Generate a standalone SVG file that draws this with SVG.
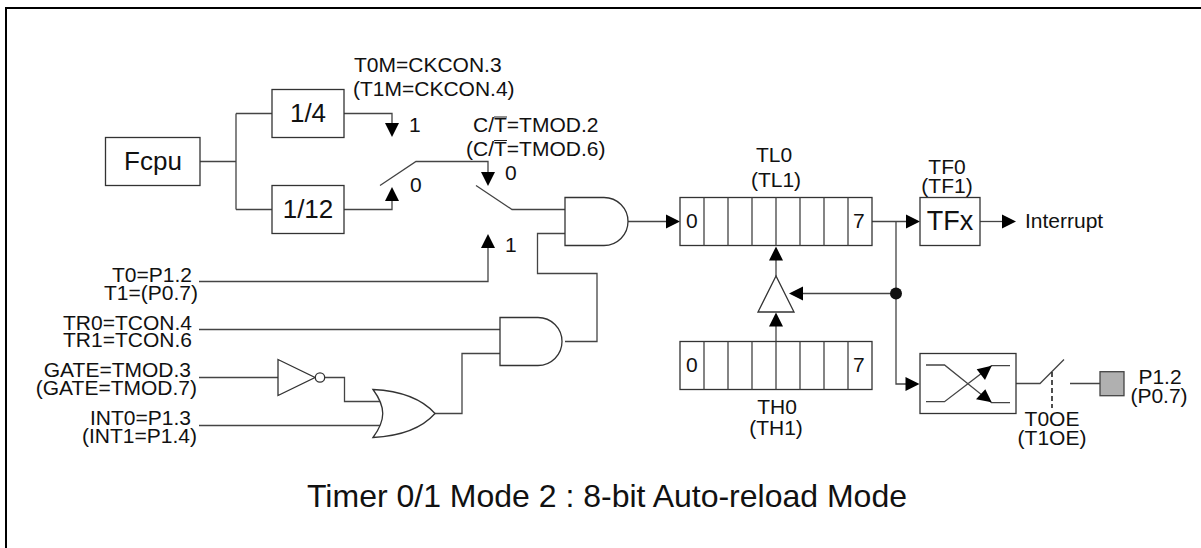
<svg xmlns="http://www.w3.org/2000/svg" width="1201" height="548" viewBox="0 0 1201 548">
<style>
text{font-family:"Liberation Sans",Arial,sans-serif;fill:#111}
.s{font-size:21px}.b{font-size:26px}.a{text-anchor:middle}.e{text-anchor:end}
.l{fill:none;stroke:#444;stroke-width:1.3}
.g{fill:#fff;stroke:#333;stroke-width:1.3}
.h{fill:#000}
</style>
<defs>
<path id="au" d="M0,0L-7,14H7Z" class="h"/>
<path id="ad" d="M0,0L-7,-14H7Z" class="h"/>
<path id="ar" d="M0,0L-14,-7V7Z" class="h"/>
<path id="al" d="M0,0L14,-7V7Z" class="h"/>
</defs>
<path d="M6,570V8H1201" fill="none" stroke="#000" stroke-width="2"/>
<g id="connectors">
<path class="l" d="M200,161.500H236M236,113.500V209.500M236,113.500H272M236,209.500H272"/>
<path class="l" d="M344,113.500H392V125M344,209.500H392V199"/>
<path class="l" d="M380,185.500L416,161.500H488V173"/>
<path class="l" d="M476,185.500L512,209.500H565"/>
<path class="l" d="M199,281.500H488V246"/>
<path class="l" d="M565,233.500H537.500V273.500H597V341.500H565"/>
<path class="l" d="M628,221.500H668"/>
<path class="l" d="M199,329.500H500"/>
<path class="l" d="M199,377.500H278M325,377.500H344.500V401.500H380"/>
<path class="l" d="M199,425.500H380"/>
<path class="l" d="M435,413.500H462V353.500H500"/>
<path class="l" d="M872,221.500H908M896,221.500V384H908"/>
<path class="l" d="M980,221.500H1004"/>
<path class="l" d="M776,276V258"/>
<path class="l" d="M896,293.500H800"/>
<path class="l" d="M776,341.500V325"/>
<path class="l" d="M1016,383.500H1040L1064,359.500M1070,383.500H1100"/>
<path d="M1052,372V408" fill="none" stroke="#222" stroke-width="1.6" stroke-dasharray="5 3"/>
<use href="#ad" x="392" y="137"/><use href="#au" x="392" y="187"/>
<use href="#ad" x="488" y="186"/><use href="#au" x="488" y="234"/>
<use href="#ar" x="680" y="221.500"/><use href="#ar" x="920" y="221.500"/><use href="#ar" x="1016" y="221.500"/>
<use href="#au" x="776" y="246.500"/><use href="#al" x="789" y="293.500"/><use href="#au" x="776" y="312.500"/>
<use href="#ar" x="919.500" y="384"/>
<circle cx="896" cy="293.500" r="6" fill="#111"/>
</g>
<g id="fcpu"><rect class="g" x="105.500" y="137.500" width="94.500" height="48"/><text class="b a" x="153" y="170">Fcpu</text></g>
<g id="div4"><rect class="g" x="272" y="89.500" width="72" height="48"/><text class="b a" x="308" y="122">1/4</text></g>
<g id="div12"><rect class="g" x="272" y="185.500" width="72" height="48"/><text class="b a" x="308" y="218">1/12</text></g>
<g id="and1"><path class="g" d="M565,197.500H604A24,24 0 0 1 604,245.500H565Z"/></g>
<g id="and2"><path class="g" d="M500,317.500H538A24,24 0 0 1 538,365.500H500Z"/></g>
<g id="not"><path class="g" d="M278,359.500L315,377.500L278,395.500Z"/><circle class="g" cx="320" cy="377.500" r="4.700"/></g>
<g id="or"><path class="g" d="M373,389.500C402,391 423,400 435,413.500C423,427 402,436 373,437.500C386,420 386,407 373,389.500Z"/></g>
<g id="tl"><rect class="g" x="680" y="197.500" width="192" height="48"/><path class="l" d="M704,197.500V245.500M728,197.500V245.500M752,197.500V245.500M776,197.500V245.500M800,197.500V245.500M824,197.500V245.500M848,197.500V245.500"/><text class="s" x="686" y="228">0</text><text class="s" x="853" y="228">7</text></g>
<g id="th"><rect class="g" x="680" y="341.500" width="192" height="48"/><path class="l" d="M704,341.500V389.500M728,341.500V389.500M752,341.500V389.500M776,341.500V389.500M800,341.500V389.500M824,341.500V389.500M848,341.500V389.500"/><text class="s" x="686" y="372">0</text><text class="s" x="853" y="372">7</text></g>
<g id="buf"><path class="g" d="M776,276L758,312H794Z"/></g>
<g id="tfx"><rect class="g" x="920" y="197.500" width="60" height="48"/><text class="b a" x="950" y="230" style="font-size:27px">TFx</text></g>
<g id="toggle"><rect class="g" x="920" y="353.500" width="96" height="60"/>
<path class="l" d="M926,365H944.500L991.500,402.700H1010M926,401.700H944.500L991.500,365.700H1010"/>
<path class="h" d="M991.700,365.700L976.700,369.300L985,380Z"/><path class="h" d="M991.700,402.300L976,399.300L985.300,389.300Z"/></g>
<g id="pin"><rect x="1100" y="371.700" width="24" height="24" fill="#b0b0b0" stroke="#444" stroke-width="1.300"/></g>
<g id="labels">
<text class="s" x="354" y="72">T0M=CKCON.3</text><text class="s" x="353" y="96">(T1M=CKCON.4)</text>
<text class="s" x="409" y="132">1</text><text class="s" x="410" y="192">0</text>
<text class="s" x="473" y="132">C/T=TMOD.2</text><text class="s" x="466" y="156">(C/T=TMOD.6)</text>
<path d="M494,117H507M494,140.500H507" stroke="#222" stroke-width="1.200" fill="none"/>
<text class="s" x="505" y="180">0</text><text class="s" x="505" y="252">1</text>
<text class="s a" x="774" y="162">TL0</text><text class="s a" x="776" y="187">(TL1)</text>
<text class="s a" x="947" y="174">TF0</text><text class="s a" x="947" y="193">(TF1)</text>
<text class="s" x="1025" y="228">Interrupt</text>
<text class="s a" x="777" y="414">TH0</text><text class="s a" x="776" y="435">(TH1)</text>
<text class="s a" x="1052" y="426">T0OE</text><text class="s a" x="1052" y="444.500">(T1OE)</text>
<text class="s a" x="1160" y="383.500">P1.2</text><text class="s a" x="1159" y="402.500">(P0.7)</text>
<text class="s e" x="192" y="282">T0=P1.2</text><text class="s e" x="198" y="300">T1=(P0.7)</text>
<text class="s e" x="192" y="330">TR0=TCON.4</text><text class="s e" x="192" y="347">TR1=TCON.6</text>
<text class="s e" x="191" y="377">GATE=TMOD.3</text><text class="s e" x="197" y="395">(GATE=TMOD.7)</text>
<text class="s e" x="191" y="425">INT0=P1.3</text><text class="s e" x="197" y="443">(INT1=P1.4)</text>
<text x="307" y="507" style="font-size:32px">Timer 0/1 Mode 2 : 8-bit Auto-reload Mode</text>
</g>
</svg>
